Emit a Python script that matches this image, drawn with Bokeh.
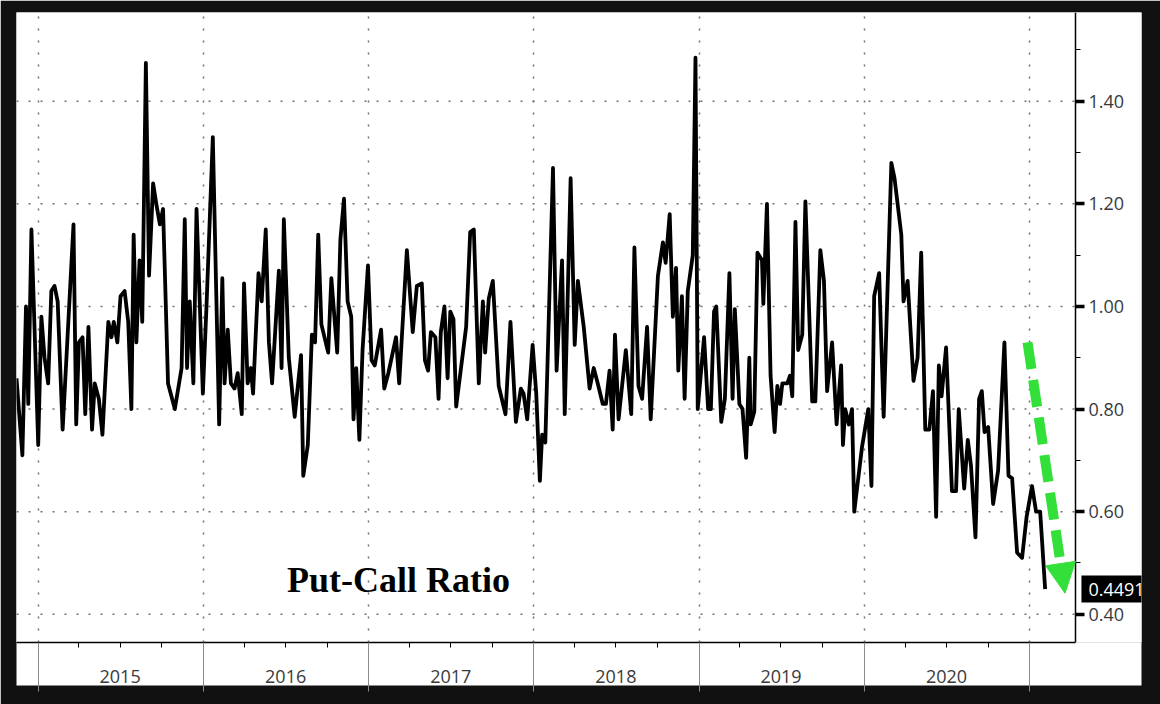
import pandas as pd
from bokeh.plotting import figure
from bokeh.models import (ColumnDataSource, Range1d, FixedTicker, NumeralTickFormatter,
                          LinearAxis, Label, Arrow, NormalHead)
from bokeh.embed import file_html
from bokeh.resources import INLINE

# ---------------- data ----------------
dates = [
    "2014-11-14", "2014-11-27", "2014-12-05", "2014-12-10", "2014-12-17", "2015-01-01",
    "2015-01-08", "2015-01-15", "2015-01-23", "2015-01-30", "2015-02-06", "2015-02-13",
    "2015-02-24", "2015-03-20", "2015-03-26", "2015-04-01", "2015-04-09", "2015-04-15",
    "2015-04-22", "2015-04-30", "2015-05-06", "2015-05-15", "2015-05-23", "2015-06-05",
    "2015-06-12", "2015-06-17", "2015-06-25", "2015-07-02", "2015-07-11", "2015-07-19",
    "2015-07-26", "2015-07-31", "2015-08-06", "2015-08-13", "2015-08-19", "2015-08-27",
    "2015-09-03", "2015-09-12", "2015-09-19", "2015-09-27", "2015-10-04", "2015-10-15",
    "2015-10-30", "2015-11-14", "2015-11-21", "2015-11-26", "2015-12-02", "2015-12-10",
    "2015-12-17", "2015-12-31", "2016-01-08", "2016-01-22", "2016-02-05", "2016-02-12",
    "2016-02-17", "2016-02-24", "2016-03-02", "2016-03-10", "2016-03-17", "2016-03-26",
    "2016-03-31", "2016-04-08", "2016-04-15", "2016-04-20", "2016-05-02", "2016-05-09",
    "2016-05-18", "2016-05-25", "2016-06-01", "2016-06-16", "2016-06-22", "2016-06-27",
    "2016-07-08", "2016-07-21", "2016-08-04", "2016-08-09", "2016-08-19", "2016-08-28",
    "2016-09-04", "2016-09-11", "2016-09-18", "2016-10-03", "2016-10-10", "2016-10-23",
    "2016-10-30", "2016-11-07", "2016-11-15", "2016-11-23", "2016-11-28", "2016-12-04",
    "2016-12-11", "2016-12-18", "2016-12-30", "2017-01-07", "2017-01-14", "2017-01-28",
    "2017-02-04", "2017-02-13", "2017-03-02", "2017-03-09", "2017-03-26", "2017-04-08",
    "2017-04-17", "2017-04-28", "2017-05-05", "2017-05-12", "2017-05-18", "2017-05-28",
    "2017-06-04", "2017-06-09", "2017-06-17", "2017-06-24", "2017-06-30", "2017-07-07",
    "2017-07-13", "2017-08-04", "2017-08-13", "2017-08-21", "2017-09-01", "2017-09-10",
    "2017-09-15", "2017-09-23", "2017-10-02", "2017-10-15", "2017-10-30", "2017-11-10",
    "2017-11-22", "2017-12-03", "2017-12-09", "2017-12-17", "2017-12-29", "2018-01-06",
    "2018-01-14", "2018-01-19", "2018-01-26", "2018-02-12", "2018-02-20", "2018-03-04",
    "2018-03-10", "2018-03-23", "2018-04-01", "2018-04-08", "2018-04-21", "2018-05-04",
    "2018-05-13", "2018-05-22", "2018-06-02", "2018-06-09", "2018-06-17", "2018-06-24",
    "2018-06-29", "2018-07-07", "2018-07-23", "2018-08-04", "2018-08-11", "2018-08-20",
    "2018-08-28", "2018-09-08", "2018-09-16", "2018-10-02", "2018-10-13", "2018-10-19",
    "2018-10-28", "2018-11-04", "2018-11-11", "2018-11-16", "2018-11-24", "2018-11-30",
    "2018-12-07", "2018-12-18", "2018-12-24", "2018-12-29", "2019-01-12", "2019-01-21",
    "2019-01-27", "2019-02-03", "2019-02-08", "2019-02-19", "2019-02-27", "2019-03-09",
    "2019-03-16", "2019-03-21", "2019-03-31", "2019-04-07", "2019-04-15", "2019-04-22",
    "2019-04-25", "2019-05-03", "2019-05-10", "2019-05-20", "2019-05-23", "2019-05-31",
    "2019-06-08", "2019-06-17", "2019-06-23", "2019-06-29", "2019-07-04", "2019-07-15",
    "2019-07-21", "2019-07-26", "2019-08-02", "2019-08-08", "2019-08-17", "2019-08-24",
    "2019-09-08", "2019-09-15", "2019-09-26", "2019-10-04", "2019-10-11", "2019-10-22",
    "2019-11-01", "2019-11-11", "2019-11-15", "2019-11-20", "2019-11-28", "2019-12-05",
    "2019-12-10", "2019-12-27", "2020-01-10", "2020-01-17", "2020-01-23", "2020-02-03",
    "2020-02-13", "2020-03-01", "2020-03-08", "2020-03-23", "2020-03-28", "2020-04-06",
    "2020-04-19", "2020-04-28", "2020-05-06", "2020-05-15", "2020-05-24", "2020-06-01",
    "2020-06-08", "2020-06-14", "2020-06-20", "2020-06-30", "2020-07-13", "2020-07-22",
    "2020-07-28", "2020-08-09", "2020-08-17", "2020-08-24", "2020-09-03", "2020-09-11",
    "2020-09-17", "2020-09-23", "2020-10-01", "2020-10-12", "2020-10-23", "2020-11-06",
    "2020-11-15", "2020-11-23", "2020-12-04", "2020-12-15", "2020-12-25", "2021-01-06",
    "2021-01-15", "2021-01-24", "2021-02-04",
]
put_call_ratio = [
    0.86, 0.71, 1.00, 0.81, 1.15, 0.73,
    0.98, 0.90, 0.85, 1.03, 1.04, 1.01,
    0.76, 1.16, 0.77, 0.93, 0.94, 0.79,
    0.96, 0.76, 0.85, 0.82, 0.75, 0.97,
    0.94, 0.97, 0.93, 1.02, 1.03, 0.97,
    0.80, 1.14, 0.93, 1.09, 0.97, 1.475,
    1.06, 1.24, 1.20, 1.16, 1.19, 0.85,
    0.80, 0.88, 1.17, 0.88, 1.01, 0.85,
    1.19, 0.83, 1.00, 1.33, 0.77, 1.055,
    0.85, 0.955, 0.85, 0.84, 0.87, 0.79,
    1.045, 0.85, 0.88, 0.83, 1.065, 1.01,
    1.15, 0.93, 0.85, 1.07, 0.88, 1.17,
    0.90, 0.785, 0.905, 0.67, 0.73, 0.945,
    0.93, 1.14, 0.965, 0.91, 1.055, 0.91,
    1.13, 1.21, 1.01, 0.98, 0.78, 0.88,
    0.74, 0.915, 1.08, 0.895, 0.885, 0.955,
    0.84, 0.87, 0.94, 0.85, 1.11, 0.95,
    1.04, 1.045, 0.895, 0.875, 0.95, 0.94,
    0.82, 0.95, 1.00, 0.86, 0.99, 0.975,
    0.805, 0.96, 1.145, 1.15, 0.85, 1.01,
    0.91, 1.015, 1.05, 0.845, 0.79, 0.97,
    0.775, 0.84, 0.83, 0.78, 0.925, 0.83,
    0.66, 0.75, 0.735, 1.27, 0.875, 1.09,
    0.79, 1.25, 0.925, 1.05, 0.96, 0.84,
    0.88, 0.85, 0.81, 0.81, 0.875, 0.76,
    0.945, 0.78, 0.915, 0.79, 1.115, 0.845,
    0.82, 0.96, 0.78, 1.06, 1.125, 1.085,
    1.18, 0.98, 1.075, 0.875, 1.02, 0.82,
    1.03, 1.10, 1.485, 0.80, 0.94, 0.80,
    0.80, 0.99, 1.00, 0.775, 0.82, 1.065,
    0.82, 0.995, 0.81, 0.80, 0.705, 0.90,
    0.77, 0.795, 1.105, 1.09, 1.005, 1.20,
    0.865, 0.755, 0.845, 0.81, 0.85, 0.85,
    0.865, 0.825, 1.165, 0.915, 0.945, 1.205,
    0.815, 0.815, 1.11, 1.05, 0.835, 0.93,
    0.77, 0.885, 0.73, 0.80, 0.77, 0.80,
    0.60, 0.725, 0.80, 0.65, 1.02, 1.065,
    0.785, 1.28, 1.25, 1.14, 1.01, 1.05,
    0.855, 0.90, 1.105, 0.76, 0.76, 0.835,
    0.59, 0.885, 0.825, 0.92, 0.64, 0.64,
    0.80, 0.645, 0.74, 0.69, 0.55, 0.82,
    0.835, 0.755, 0.765, 0.615, 0.68, 0.93,
    0.67, 0.665, 0.52, 0.51, 0.59, 0.65,
    0.60, 0.60, 0.4491,
]

years = [2015, 2016, 2017, 2018, 2019, 2020, 2021]
year_labels = ["2015", "2016", "2017", "2018", "2019", "2020"]
y_ticks = [0.40, 0.60, 0.80, 1.00, 1.20, 1.40]
y_minor_ticks = [0.50, 0.70, 0.90, 1.10, 1.30, 1.50]

x_start, x_end = "2014-11-14", "2021-09-05"   # visible window (incl. label strip)
axis_date = "2021-04-12"                       # where the value axis sits
y_start, y_end = 0.345, 1.573

last_value = put_call_ratio[-1]
arrow_from = ("2020-12-27", 0.93)
arrow_to = ("2021-03-20", 0.441)
chart_label = "Put-Call Ratio"
chart_label_at = ("2016-07-04", 0.466)

GREEN = "#33e03a"
GRID = "#707070"
LABEL_GREY = "#3a3a3a"


def ms(s):
    return pd.Timestamp(s).value / 1e6


src = ColumnDataSource(data=dict(x=[ms(d) for d in dates], y=put_call_ratio))

p = figure(width=1160, height=704, output_backend="svg", toolbar_location=None,
           x_range=Range1d(ms(x_start), ms(x_end)), y_range=Range1d(y_start, y_end),
           x_axis_location="below", y_axis_type=None,
           min_border_left=16, min_border_top=12, min_border_right=19, min_border_bottom=62)
p.border_fill_color = "#111111"
p.background_fill_color = "white"
p.outline_line_color = None

# ---- time axis: quarter ticks, long grey year separators, year labels mid-year
boundaries = [ms(f"{y}-01-01") for y in years]
quarters = []
overrides = {}
for y, lab in zip(years[:-1], year_labels):
    for m in ("04", "07", "10"):
        t = ms(f"{y}-{m}-01")
        quarters.append(t)
        overrides[t] = lab if m == "07" else ""
xax = p.xaxis[0]
xax.ticker = FixedTicker(ticks=quarters, minor_ticks=boundaries)
xax.major_label_overrides = overrides
xax.bounds = (ms(x_start), ms(axis_date))
xax.axis_line_color = "black"
xax.axis_line_width = 1.5
xax.major_tick_in = 0
xax.major_tick_out = 5
xax.major_tick_line_color = "black"
xax.minor_tick_in = 0
xax.minor_tick_out = 49
xax.minor_tick_line_color = "#8a8a8a"
xax.minor_tick_line_width = 1
xax.major_label_standoff = -22
xax.major_label_text_font = "Open Sans"
xax.major_label_text_font_size = "18px"
xax.major_label_text_color = LABEL_GREY
xax.background_fill_color = "white"

p.xgrid[0].ticker = FixedTicker(ticks=boundaries)
p.xgrid[0].grid_line_color = GRID
p.xgrid[0].grid_line_dash = "2 10"
p.xgrid[0].grid_line_width = 1.5

# ---- value axis, drawn at axis_date inside the white area
yax = LinearAxis(fixed_location=ms(axis_date),
                 ticker=FixedTicker(ticks=y_ticks, minor_ticks=y_minor_ticks),
                 formatter=NumeralTickFormatter(format="0.00"))
yax.axis_line_color = "black"
yax.axis_line_width = 1.5
yax.major_tick_in = 0
yax.major_tick_out = 9
yax.major_tick_line_width = 3.5
yax.major_tick_line_color = "black"
yax.minor_tick_in = 0
yax.minor_tick_out = 5
yax.minor_tick_line_color = "black"
yax.major_label_standoff = 4
yax.major_label_text_font = "Open Sans"
yax.major_label_text_font_size = "18px"
yax.major_label_text_color = LABEL_GREY
p.add_layout(yax, "right")

# horizontal dotted grid, stopping at the value axis
n = len(y_ticks)
p.segment(x0=[ms(x_start)] * n, y0=y_ticks, x1=[ms(axis_date)] * n, y1=y_ticks,
          line_color=GRID, line_dash="2 10", line_width=1.5)

p.line(x="x", y="y", source=src, line_color="black", line_width=3.8, line_join="round")

p.add_layout(Arrow(end=NormalHead(size=30, fill_color=GREEN, line_color=GREEN),
                   x_start=ms(arrow_from[0]), y_start=arrow_from[1],
                   x_end=ms(arrow_to[0]), y_end=arrow_to[1],
                   line_color=GREEN, line_width=10, line_dash="27 11"))

p.add_layout(Label(x=ms(chart_label_at[0]), y=chart_label_at[1], text=chart_label,
                   text_font="Liberation Serif", text_font_style="bold",
                   text_font_size="36px", text_color="black", text_baseline="alphabetic"))

p.add_layout(Label(x=ms(axis_date), y=last_value, x_offset=6, text=f"{last_value:.4f}",
                   text_font="Open Sans", text_font_size="18px", text_color="white",
                   text_baseline="middle", background_fill_color="black", padding=7))

open("out.html", "w").write(file_html(p, INLINE))
